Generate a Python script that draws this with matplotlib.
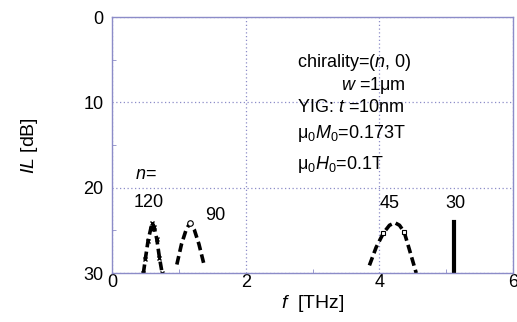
import matplotlib
matplotlib.use('Agg')
import matplotlib.pyplot as plt

plt.rcParams['font.family'] = ['Liberation Sans', 'DejaVu Sans']
plt.rcParams['mathtext.fontset'] = 'custom'
plt.rcParams['mathtext.rm'] = 'Liberation Sans'
plt.rcParams['mathtext.it'] = 'Liberation Sans:italic'

# insertion loss peaks for each chirality index n
f_120 = [0.47, 0.50, 0.54, 0.58, 0.60, 0.63, 0.67, 0.71, 0.75]
il_120 = [30.0, 28.3, 26.2, 24.8, 24.1, 24.6, 26.0, 28.2, 30.0]

f_90 = [0.97, 1.04, 1.11, 1.17, 1.23, 1.30, 1.37]
il_90 = [29.0, 26.6, 24.9, 24.1, 24.9, 26.6, 28.8]

f_45 = [3.85, 3.95, 4.06, 4.15, 4.23, 4.30, 4.37, 4.45, 4.55]
il_45 = [29.1, 27.0, 25.3, 24.4, 24.1, 24.4, 25.2, 27.3, 30.0]

f_30 = [5.12, 5.12]
il_30 = [30.0, 24.0]

frame = '#8c8cc8'

fig = plt.figure(figsize=(5.17, 3.22), dpi=100)
ax = fig.add_axes([0.2166, 0.152, 0.776, 0.795])

dash = dict(color='black', lw=2.6, ls=(0, (2.4, 1.2)))
ax.plot(f_120, il_120, marker='x', ms=3.5, mew=1, **dash)
ax.plot(f_90, il_90, **dash)
ax.plot([f_90[3]], [il_90[3]], 'o', ms=4, mfc='white', mec='black', mew=0.8)
ax.plot(f_45, il_45, **dash)
ax.plot([f_45[2], f_45[6]], [il_45[2], il_45[6]], 's', ms=3.5, mfc='white', mec='black', mew=0.8)
ax.plot(f_30, il_30, color='black', lw=3)

ax.set_xlim(0, 6)
ax.set_ylim(30, 0)
ax.set_xticks([0, 2, 4, 6])
ax.set_xticks([1, 3, 5], minor=True)
ax.set_yticks([0, 10, 20, 30])
ax.set_yticks([5, 15, 25], minor=True)
ax.tick_params(which='both', direction='in', color=frame, labelsize=13)
ax.tick_params(which='major', length=0, pad=6)
ax.tick_params(which='minor', length=3)
ax.tick_params(axis='x', pad=1)
for s in ax.spines.values():
    s.set_color(frame)
    s.set_linewidth(1)
ax.grid(True, which='major', color=frame, ls=(0, (1, 2)), lw=0.9)

ax.set_xlabel(r'$\it{f}$  [THz]', fontsize=14, labelpad=1)
ax.set_ylabel(r'$\it{IL}$ [dB]', fontsize=14, labelpad=31)

fs = 13
ax.text(2.77, 5.3, r'chirality=($\it{n}$, 0)', fontsize=fs, va='center')
ax.text(3.42, 8.0, r'$\it{w}$ =1$\mathrm{\mu}$m', fontsize=fs, va='center')
ax.text(2.77, 10.6, r'YIG: $\it{t}$ =10nm', fontsize=fs, va='center')
ax.text(2.77, 13.6, r'$\mathrm{\mu}_0\it{M}_0$=0.173T', fontsize=fs, va='center')
ax.text(2.77, 17.3, r'$\mathrm{\mu}_0\it{H}_0$=0.1T', fontsize=fs, va='center')

ax.text(0.34, 18.5, r'$\it{n}$=', fontsize=fs, va='center')
ax.text(0.32, 21.7, '120', fontsize=fs, va='center')
ax.text(1.40, 23.2, '90', fontsize=fs, va='center')
ax.text(4.01, 21.8, '45', fontsize=fs, va='center')
ax.text(4.98, 21.8, '30', fontsize=fs, va='center')

fig.savefig('out.png', dpi=100)
